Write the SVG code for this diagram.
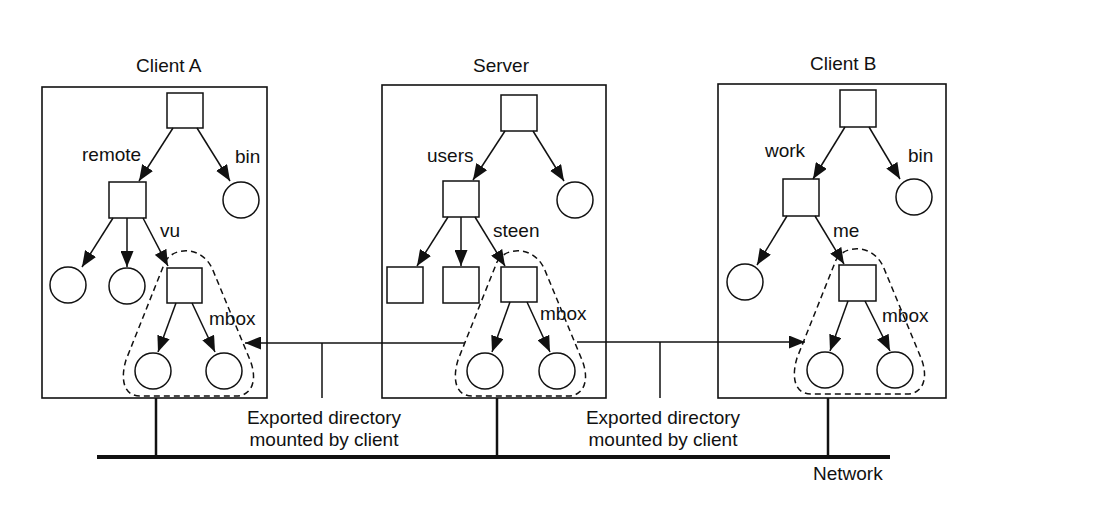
<svg xmlns="http://www.w3.org/2000/svg" width="1114" height="513" viewBox="0 0 1114 513">
<style>
text{font-family:"Liberation Sans",Arial,sans-serif;font-size:19px;fill:#111}
.box{fill:none;stroke:#111;stroke-width:1.6}
.sq{fill:#fff;stroke:#111;stroke-width:1.5}
.ci{fill:#fff;stroke:#111;stroke-width:1.5}
.ar{stroke:#111;stroke-width:1.5;fill:none;marker-end:url(#ah)}
.ln{stroke:#111;stroke-width:1.5;fill:none}
.dash{fill:none;stroke:#111;stroke-width:1.5;stroke-dasharray:6,4}
.ctr{text-anchor:middle}
</style>
<defs>
<marker id="ah" markerWidth="16" markerHeight="13" refX="16" refY="6.5" orient="auto" markerUnits="userSpaceOnUse"><path d="M0,0 L16,6.5 L0,13 z" fill="#111"/></marker>
<path id="mnt" d="M165 262 C172 248,200 244,212 268 L250 360 C258 380,252 396,236 396 L140 396 C124 396,120 380,126 360 Z"/>
</defs>
<rect width="1114" height="513" fill="#fff"/>

<g id="clientA">
<rect class="box" x="42" y="87" width="225" height="311"/>
<text x="136" y="72">Client A</text>
<g id="A-root"><rect class="sq" x="167" y="93" width="36" height="35"/></g>
<g id="A-remote"><rect class="sq" x="109" y="182" width="37" height="36"/></g>
<g id="A-bin"><circle class="ci" cx="241" cy="200" r="18"/></g>
<g id="A-r1"><circle class="ci" cx="68" cy="285" r="18"/></g>
<g id="A-r2"><circle class="ci" cx="127" cy="286" r="18"/></g>
<g id="A-vu"><rect class="sq" x="167" y="268" width="35" height="35"/></g>
<g id="A-m1"><circle class="ci" cx="153" cy="371" r="18"/></g>
<g id="A-m2"><circle class="ci" cx="224" cy="371" r="18"/></g>
<use href="#mnt" class="dash"/>
<text x="82" y="161">remote</text>
<text x="235" y="163">bin</text>
<text x="160" y="237">vu</text>
<text x="209" y="325">mbox</text>
</g>

<g id="server">
<rect class="box" x="382" y="85" width="224" height="313"/>
<text x="473" y="72">Server</text>
<g id="S-root"><rect class="sq" x="501" y="95" width="36" height="36"/></g>
<g id="S-users"><rect class="sq" x="443" y="181" width="36" height="36"/></g>
<g id="S-c1"><circle class="ci" cx="575" cy="200" r="18"/></g>
<g id="S-s1"><rect class="sq" x="387" y="267" width="36" height="36"/></g>
<g id="S-s2"><rect class="sq" x="443" y="267" width="36" height="36"/></g>
<g id="S-steen"><rect class="sq" x="501" y="267" width="36" height="35"/></g>
<g id="S-m1"><circle class="ci" cx="485" cy="371" r="18"/></g>
<g id="S-m2"><circle class="ci" cx="557" cy="371" r="18"/></g>
<use href="#mnt" class="dash" transform="translate(332,0)"/>
<text x="427" y="162">users</text>
<text x="493" y="237">steen</text>
<text x="540" y="320">mbox</text>
</g>

<g id="clientB">
<rect class="box" x="718" y="84" width="228" height="314"/>
<text x="810" y="70">Client B</text>
<g id="B-root"><rect class="sq" x="840" y="90" width="36" height="37"/></g>
<g id="B-work"><rect class="sq" x="783" y="179" width="36" height="37"/></g>
<g id="B-bin"><circle class="ci" cx="914" cy="197" r="18"/></g>
<g id="B-c1"><circle class="ci" cx="745" cy="282" r="18"/></g>
<g id="B-me"><rect class="sq" x="839" y="265" width="37" height="36"/></g>
<g id="B-m1"><circle class="ci" cx="825" cy="370" r="18"/></g>
<g id="B-m2"><circle class="ci" cx="895" cy="370" r="18"/></g>
<use href="#mnt" class="dash" transform="translate(671,-2)"/>
<text x="765" y="157">work</text>
<text x="908" y="162">bin</text>
<text x="833" y="237">me</text>
<text x="882" y="322">mbox</text>
</g>

<g id="network">
<line x1="97" y1="457" x2="890" y2="457" stroke="#111" stroke-width="4"/>
<text x="813" y="480">Network</text>
</g>

<g id="labels">
<text class="ctr" x="324" y="424">Exported directory</text>
<text class="ctr" x="324" y="446">mounted by client</text>
<text class="ctr" x="663" y="424">Exported directory</text>
<text class="ctr" x="663" y="446">mounted by client</text>
</g>

<g id="connectors">
<line class="ar" x1="173" y1="128" x2="139" y2="181"/>
<line class="ar" x1="197" y1="128" x2="230" y2="181"/>
<line class="ar" x1="113" y1="218" x2="82" y2="267"/>
<line class="ar" x1="127" y1="218" x2="127" y2="267"/>
<line class="ar" x1="143" y1="218" x2="168" y2="266"/>
<line class="ar" x1="176" y1="303" x2="158" y2="352"/>
<line class="ar" x1="192" y1="303" x2="215" y2="352"/>

<line class="ar" x1="505" y1="131" x2="473" y2="180"/>
<line class="ar" x1="533" y1="131" x2="564" y2="181"/>
<line class="ar" x1="448" y1="217" x2="417" y2="266"/>
<line class="ar" x1="461" y1="217" x2="461" y2="266"/>
<line class="ar" x1="475" y1="217" x2="505" y2="266"/>
<line class="ar" x1="510" y1="302" x2="492" y2="352"/>
<line class="ar" x1="527" y1="302" x2="550" y2="352"/>

<line class="ar" x1="845" y1="127" x2="813" y2="179"/>
<line class="ar" x1="869" y1="127" x2="900" y2="179"/>
<line class="ar" x1="787" y1="216" x2="757" y2="265"/>
<line class="ar" x1="815" y1="216" x2="844" y2="264"/>
<line class="ar" x1="848" y1="301" x2="830" y2="351"/>
<line class="ar" x1="865" y1="301" x2="890" y2="351"/>

<line class="ar" x1="465" y1="343" x2="245" y2="343"/>
<line class="ln" x1="322" y1="343" x2="322" y2="398"/>
<line class="ar" x1="577" y1="342" x2="805" y2="342"/>
<line class="ln" x1="660" y1="342" x2="660" y2="398"/>

<line x1="156" y1="398" x2="156" y2="457" stroke="#111" stroke-width="2.5"/>
<line x1="497" y1="398" x2="497" y2="457" stroke="#111" stroke-width="2.5"/>
<line x1="828" y1="398" x2="828" y2="457" stroke="#111" stroke-width="2.5"/>
</g>
</svg>
